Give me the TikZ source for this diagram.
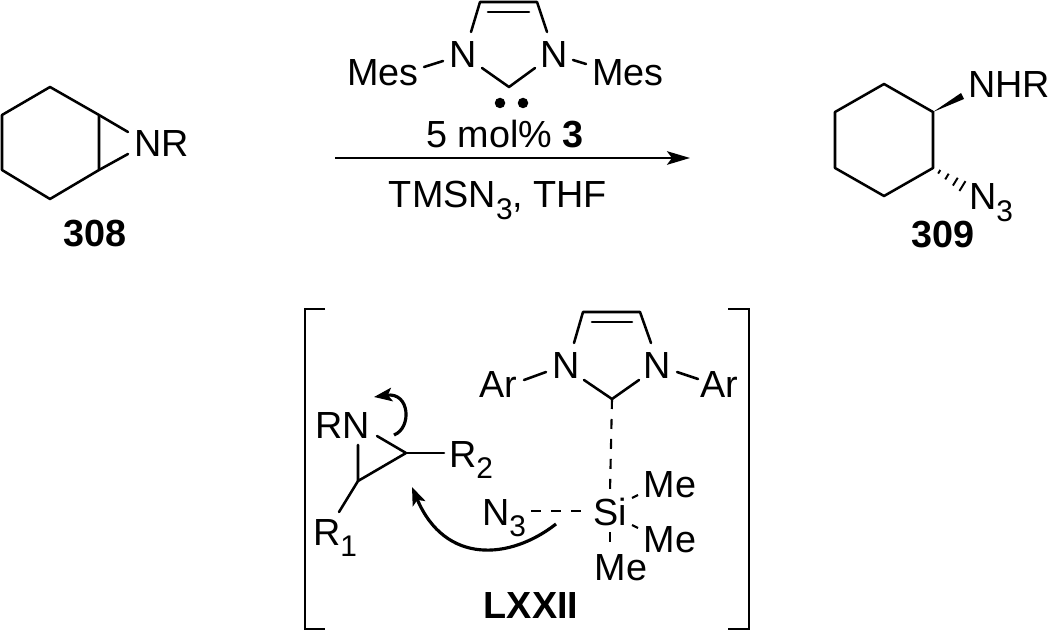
\documentclass[tikz,border=0pt]{standalone}
\usepackage{fontspec}
\setmainfont{Liberation Sans}
\usetikzlibrary{calc, arrows.meta}
\newcommand{\subnum}[1]{\raisebox{-0.3em}{\fontsize{17}{18}\selectfont #1}}
\tikzset{
  atom/.style={inner sep=0pt, font=\fontsize{21.5}{23}\selectfont},
  compound/.style={inner sep=0pt, font=\fontsize{21.5}{23}\selectfont\bfseries},
  bond/.style={line width=1.45pt, line cap=round, line join=round},
  dashbond/.style={line width=1.2pt, dash pattern=on 0.2cm off 0.2cm},
  bracket/.style={line width=1.3pt, line join=miter},
  rxnarrow/.style={line width=1.45pt, -{Stealth[length=0.46cm,width=0.27cm,inset=0.1cm]}},
  pusharrow/.style={line width=1.8pt, -{Stealth[length=0.36cm,width=0.27cm,inset=0.08cm]}},
  lonepair/.style={circle, fill=black, inner sep=0pt, minimum size=0.21cm}
}
\begin{document}
\begin{tikzpicture}[x=0.02cm, y=-0.02cm]
  \useasboundingbox (0,0) rectangle (1050,631);
  % aziridine
  \foreach \name/\x/\y in {a1/50/87, a2/99/115, a3/99/170, a4/50/199, a5/2/170, a6/2/115, a7/128/132, a8/128/154} {
    \coordinate (\name) at (\x,\y);
  }
  \draw[bond] (a2) -- (a1) -- (a6) -- (a5) -- (a4) -- (a3) -- cycle;
  \draw[bond] (a2) -- (a7);
  \draw[bond] (a3) -- (a8);
  \node[atom] (nr) at (162,144) {NR};
  \node[compound] (lab308) at (95,234) {308};
  % carbene over the arrow
  \foreach \name/\x/\y in {b1/480/2, b2/537/2, b3/488/12, b4/529/12,
                           b6/471/32, b7/547/32, b8/482/68, b9/535/68, b10/509/87,
                           b11/424/67, b12/443/61, b13/573/60, b14/586/64} {
    \coordinate (\name) at (\x,\y);
  }
  \draw[bond] (b6) -- (b1) -- (b2) -- (b7);
  \draw[bond] (b3) -- (b4);
  \draw[bond] (b8) -- (b10) -- (b9);
  \draw[bond] (b11) -- (b12);
  \draw[bond] (b13) -- (b14);
  \node[atom] (n1) at (463,55) {N};
  \node[atom] (n2) at (554,55) {N};
  \node[atom] (mes1) at (383,73) {Mes};
  \node[atom] (mes2) at (628,73) {Mes};
  \node[lonepair] (dot1) at (500,103) {};
  \node[lonepair] (dot2) at (523,103) {};
  \node[atom] (cat) at (505,134) {5 mol\% \textbf{3}};
  \coordinate (arr1) at (335,158);
  \coordinate (arr2) at (690,158);
  \draw[rxnarrow] (arr1) -- (arr2);
  \node[atom, anchor=base] (cond) at (498,208) {TMSN\subnum{3}, THF};
  % product
  \foreach \name/\x/\y in {c1/884/84, c2/933/112, c3/933/168, c4/884/196, c5/835/168, c6/835/112, c7/961/93, c8/964/99, c9/964/187} {
    \coordinate (\name) at (\x,\y);
  }
  \draw[bond] (c2) -- (c1) -- (c6) -- (c5) -- (c4) -- (c3) -- cycle;
  \fill[line join=round] (c2) -- (c7) -- (c8) -- cycle;
  \foreach \t/\w in {0.2/1.2, 0.45/1.9, 0.72/2.6, 0.95/3.3} {
    \draw[line width=1.1pt] ($(c3)!\t!(c9)!\w pt!90:(c9)$) -- ($(c3)!\t!(c9)!\w pt!-90:(c9)$);
  }
  \node[atom] (nhr) at (1009,85) {NHR};
  \node[atom, anchor=base] (n3a) at (991,210) {N\subnum{3}};
  \node[compound] (lab309) at (943,235) {309};
  % brackets
  \foreach \name/\x/\y in {k1/325/309, k2/305/309, k3/305/629, k4/325/629, k5/728/309, k6/749/309, k7/749/629, k8/728/629} {
    \coordinate (\name) at (\x,\y);
  }
  \draw[bracket] (k1) -- (k2) -- (k3) -- (k4);
  \draw[bracket] (k5) -- (k6) -- (k7) -- (k8);
  % carbene in the transition state
  \foreach \name/\x/\y in {d1/583/312, d2/640/312, d3/592/322, d4/632/322, d5/574/343, d6/651/343,
                           d7/584/380, d8/639/380, d9/612/399, d10/524/380, d11/546/372, d12/677/372, d13/698/379} {
    \coordinate (\name) at (\x,\y);
  }
  \draw[bond] (d5) -- (d1) -- (d2) -- (d6);
  \draw[bond] (d3) -- (d4);
  \draw[bond] (d7) -- (d9) -- (d8);
  \draw[bond] (d10) -- (d11);
  \draw[bond] (d12) -- (d13);
  \node[atom] (n3) at (566,366) {N};
  \node[atom] (n4) at (657,366) {N};
  \node[atom] (ar1) at (498,385) {Ar};
  \node[atom] (ar2) at (719,385) {Ar};
  % silane
  \foreach \name/\x/\y in {e1/610/491, e2/531/511, e3/587/511, e4/632/498, e5/638/495, e6/632/525, e7/638/528, e8/610/532, e9/610/547} {
    \coordinate (\name) at (\x,\y);
  }
  \node[atom] (si) at (610,512) {Si};
  \node[atom] (me1) at (670,485) {Me};
  \node[atom] (me2) at (670,540) {Me};
  \node[atom] (me3) at (621,568) {Me};
  \node[atom, anchor=base] (n3b) at (504,525) {N\subnum{3}};
  \draw[dashbond] (d9) -- (e1);
  \draw[dashbond] (e2) -- (e3);
  \draw[dashbond] (e4) -- (e5);
  \draw[dashbond] (e6) -- (e7);
  \draw[dashbond] (e8) -- (e9);
  % aziridine in the transition state
  \foreach \name/\x/\y in {f1/377/436, f2/406/453, f3/358/481, f4/358/445, f5/444/453, f6/339/512,
                           f7/394/435, f8/374/397, f9/556/524, f10/412/487} {
    \coordinate (\name) at (\x,\y);
  }
  \draw[bond] (f1) -- (f2) -- (f3) -- (f4);
  \draw[bond] (f2) -- (f5);
  \draw[bond] (f3) -- (f6);
  \node[atom] (rn) at (343,426) {RN};
  \node[atom, anchor=base] (r2) at (471,467) {R\subnum{2}};
  \node[atom, anchor=base] (r1) at (335,545) {R\subnum{1}};
  \draw[pusharrow] (f7) .. controls (412,428) and (410,392) .. (f8);
  \draw[pusharrow] (f9) .. controls (510,560) and (445,565) .. (f10);
  \node[compound] (lab72) at (531,605) {LXXII};
\end{tikzpicture}
\end{document}
